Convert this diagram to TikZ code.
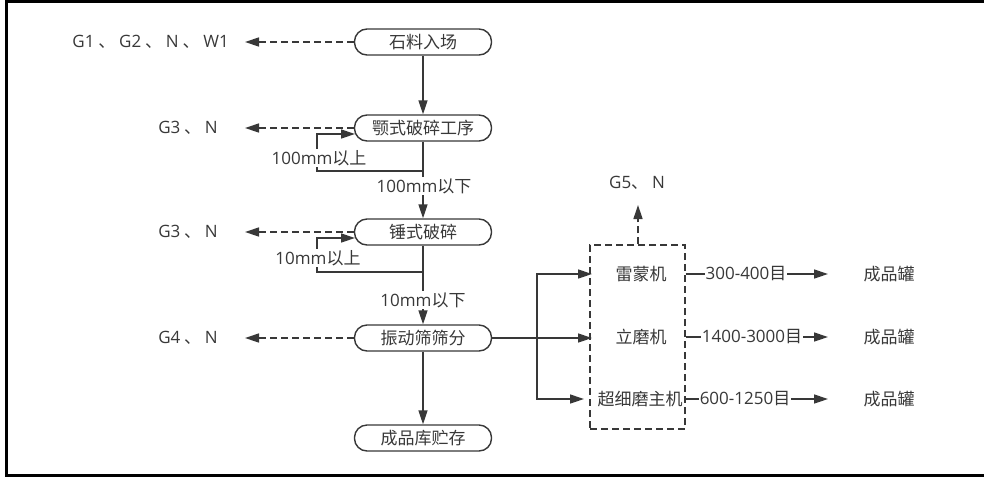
\documentclass[tikz,border=0pt]{standalone}
\usepackage{fontspec}
\setmainfont{Noto Sans CJK SC}
\newfontfamily\lat{Open Sans}
\usetikzlibrary{arrows.meta,positioning}
\definecolor{ink}{HTML}{383838}
\tikzset{
  stage/.style={draw=ink, line width=1.4pt, rounded corners=12.5pt, minimum width=137pt, minimum height=26pt, inner sep=0pt, text=ink, font=\fontsize{17}{19}\selectfont},
  lbl/.style={inner sep=0pt, text=ink, font=\fontsize{17}{19}\selectfont},
  onl/.style={fill=white, inner sep=1pt, text=ink, font=\fontsize{17}{19}\selectfont},
  arr/.style={draw=ink, line width=1.4pt, -{Triangle[length=14pt,width=9pt]}},
  plain/.style={draw=ink, line width=1.4pt},
  dasharr/.style={draw=ink, line width=1.4pt, dash pattern=on 7pt off 4pt, -{Triangle[length=14pt,width=9pt]}},
  dbox/.style={draw=ink, line width=1.4pt, dash pattern=on 7pt off 4pt, minimum width=95pt, minimum height=184pt, inner sep=0pt},
  frame/.style={draw=black, line width=3pt}
}
\begin{document}
\begin{tikzpicture}[x=1pt,y=-1pt]
\useasboundingbox (0,0) rectangle (984,477);
% frame
\coordinate (f1) at (5,1.5);
\coordinate (f2) at (984,1.5);
\coordinate (f3) at (6.5,0);
\coordinate (f4) at (6.5,477);
\coordinate (f5) at (5,475);
\coordinate (f6) at (984,475);
\draw[frame] (f1) -- (f2);
\draw[frame, line width=2.5pt] (f3) -- (f4);
\draw[frame] (f5) -- (f6);

% main column
\node[stage] (b1) at (423,42) {石料入场};
\node[stage] (b2) at (423,128) {颚式破碎工序};
\node[stage] (b3) at (423,232) {锤式破碎};
\node[stage] (b4) at (423,338) {振动筛筛分};
\node[stage] (b5) at (423,438) {成品库贮存};

% left emission labels
\node[lbl, anchor=east] (g1) at (229,42) {{\lat G1} 、 {\lat G2} 、 {\lat N} 、 {\lat W1}};
\node[lbl, anchor=east] (g2) at (218,128) {{\lat G3} 、 {\lat N}};
\node[lbl, anchor=east] (g3) at (218,232) {{\lat G3} 、 {\lat N}};
\node[lbl, anchor=east] (g4) at (218,338) {{\lat G4} 、 {\lat N}};
\coordinate (e1) at (245,42);
\coordinate (e2) at (245,128);
\coordinate (e3) at (245,232);
\coordinate (e4) at (245,338);
\draw[dasharr] (b1.west) -- (e1);
\draw[dasharr] (b2.west) -- (e2);
\draw[dasharr] (b3.west) -- (e3);
\draw[dasharr] (b4.west) -- (e4);

% main flow
\draw[arr] (b1) -- (b2);
\draw[arr] (b2) -- (b3);
\draw[arr] (b3) -- (b4);
\draw[arr] (b4) -- (b5);

% recycle loops
\coordinate (j1) at (423,171);
\coordinate (k1) at (317,171);
\coordinate (h1) at (355,134);
\draw[arr] (j1) -- (k1) |- (h1);
\coordinate (j2) at (423,272);
\coordinate (k2) at (317,272);
\coordinate (h2) at (355,238);
\draw[arr] (j2) -- (k2) |- (h2);

\node[onl] (c1) at (319,158) {{\lat 100mm}以上};
\node[onl] (c2) at (424,186) {{\lat 100mm}以下};
\node[onl] (c3) at (318,258) {{\lat 10mm}以上};
\node[onl] (c4) at (423,300) {{\lat 10mm}以下};

% milling group
\node[dbox] (db) at (637.5,337) {};
\node[lbl] (m1) at (641,274) {雷蒙机};
\node[lbl] (m2) at (641,337) {立磨机};
\coordinate (s) at (537,338);
\coordinate (a1) at (592,274);
\coordinate (a2) at (592,338);
\coordinate (a3) at (584,399);
\draw[plain] (b4.east) -- (s);
\draw[arr] (s) |- (a1);
\draw[arr] (s) -- (a2);
\draw[arr] (s) |- (a3);
\node[onl, inner sep=0.5pt] (m3) at (640,399) {超细磨主机};

% G5 emission
\node[lbl] (g5) at (637,183) {{\lat G5}、 {\lat N}};
\coordinate (e5) at (638,205);
\draw[dasharr] (db.north -| e5) -- (e5);

% products
\coordinate (t1) at (828,274);
\coordinate (t2) at (828,337);
\coordinate (t3) at (828,399);
\draw[arr] (db.east |- t1) -- (t1);
\draw[arr] (db.east |- t2) -- (t2);
\draw[arr] (db.east |- t3) -- (t3);
\node[onl] (r1) at (746,274) {{\lat 300-400}目};
\node[onl] (r2) at (752,337) {{\lat 1400-3000}目};
\node[onl] (r3) at (745,399) {{\lat 600-1250}目};
\node[lbl] (p1) at (889,274) {成品罐};
\node[lbl] (p2) at (889,337) {成品罐};
\node[lbl] (p3) at (889,399) {成品罐};
\end{tikzpicture}
\end{document}
